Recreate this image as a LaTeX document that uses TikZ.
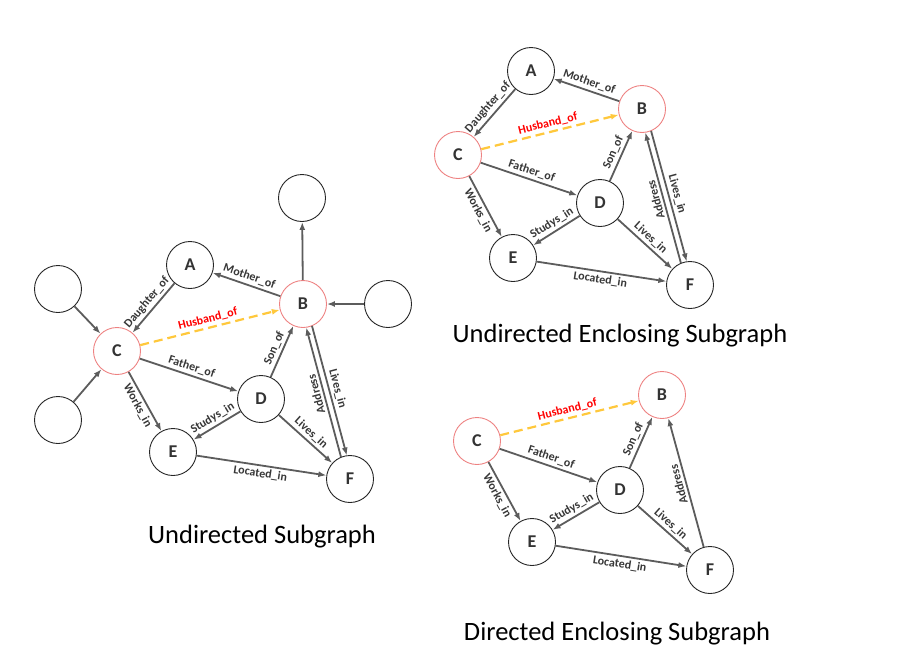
\documentclass[tikz,border=0pt]{standalone}
\usepackage{fontspec}
\setmainfont{Carlito}
\usetikzlibrary{arrows.meta,calc}
\definecolor{edgegray}{RGB}{92,92,92}
\definecolor{labgray}{RGB}{55,55,55}
\definecolor{ringred}{RGB}{238,130,130}
\definecolor{husyellow}{RGB}{255,200,60}
\definecolor{husred}{RGB}{255,0,0}
\tikzset{
  nd/.style={circle,draw=black!85,line width=0.9pt,minimum size=47pt,inner sep=0pt,
    font=\fontsize{18}{20}\selectfont\bfseries,text=black!80,fill=white},
  rnd/.style={nd,draw=ringred},
  edge/.style={draw=edgegray,line width=1.8pt,-{Latex[length=8pt,width=6pt]}},
  hus/.style={draw=husyellow,line width=2.2pt,dash pattern=on 9pt off 5pt,-{Latex[length=8pt,width=6pt]}},
  lab/.style={font=\fontsize{12}{13}\selectfont\bfseries,text=labgray,inner sep=2.5pt,sloped},
  hlab/.style={lab,text=husred},
  twin/.style={edge,shorten <=23.5pt,shorten >=23.5pt},
  ttl/.style={font=\fontsize{26.5}{30}\selectfont,text=black,anchor=base},
}
\begin{document}
\begin{tikzpicture}[x=1pt,y=-1pt]
\useasboundingbox (0,0) rectangle (910,664);
% ---------- Undirected Subgraph ----------
\node[nd] (T1) at (302,198) {};
\node[nd] (R1) at (388,304) {};
\node[nd] (L1) at (58,289) {};
\node[nd] (M1) at (58,420) {};
\node[nd] (A1) at (190,265) {A};
\node[rnd] (B1) at (303,304) {B};
\node[rnd] (C1) at (117,351) {C};
\node[nd] (D1) at (261,399) {D};
\node[nd] (E1) at (173,452) {E};
\node[nd] (F1) at (350,479) {F};
\draw[edge] (B1) -- (T1);
\draw[edge] (R1) -- (B1);
\draw[edge] (L1) -- (C1);
\draw[edge] (M1) -- (C1);
\draw[edge] (A1) -- node[lab,above] {Daughter\_of} (C1);
\draw[edge] (B1) -- node[lab,above] {Mother\_of} (A1);
\draw[hus] (C1) -- node[hlab,above] {Husband\_of} (B1);
\draw[edge] (C1) -- node[lab,above] {Father\_of} (D1);
\draw[edge] (C1) -- node[lab,below] {Works\_in} (E1);
\draw[edge] (D1) -- node[lab,above] {Son\_of} (B1);
\draw[edge] (D1) -- node[lab,above] {Studys\_in} (E1);
\draw[edge] (D1) -- node[lab,above] {Lives\_in} (F1);
\draw[edge] (E1) -- node[lab,below] {Located\_in} (F1);
\draw[twin] ($(F1)!3pt!90:(B1)$) -- node[lab,allow upside down,above] {Address} ($(B1)!3pt!-90:(F1)$);
\draw[twin] ($(B1)!3pt!90:(F1)$) -- node[lab,above] {Lives\_in} ($(F1)!3pt!-90:(B1)$);
\node[ttl] (t1) at (262,543) {Undirected Subgraph};
% ---------- Undirected Enclosing Subgraph ----------
\node[nd] (A2) at (531,71) {A};
\node[rnd] (B2) at (642,109) {B};
\node[rnd] (C2) at (458,155) {C};
\node[nd] (D2) at (600,203) {D};
\node[nd] (E2) at (513,258) {E};
\node[nd] (F2) at (690,285) {F};
\draw[edge] (A2) -- node[lab,above] {Daughter\_of} (C2);
\draw[edge] (B2) -- node[lab,above] {Mother\_of} (A2);
\draw[hus] (C2) -- node[hlab,above] {Husband\_of} (B2);
\draw[edge] (C2) -- node[lab,above] {Father\_of} (D2);
\draw[edge] (C2) -- node[lab,below] {Works\_in} (E2);
\draw[edge] (D2) -- node[lab,above] {Son\_of} (B2);
\draw[edge] (D2) -- node[lab,above] {Studys\_in} (E2);
\draw[edge] (D2) -- node[lab,above] {Lives\_in} (F2);
\draw[edge] (E2) -- node[lab,below] {Located\_in} (F2);
\draw[twin] ($(F2)!3pt!90:(B2)$) -- node[lab,allow upside down,above] {Address} ($(B2)!3pt!-90:(F2)$);
\draw[twin] ($(B2)!3pt!90:(F2)$) -- node[lab,above] {Lives\_in} ($(F2)!3pt!-90:(B2)$);
\node[ttl] (t2) at (620,342) {Undirected Enclosing Subgraph};
% ---------- Directed Enclosing Subgraph ----------
\node[rnd] (B3) at (662,395) {B};
\node[rnd] (C3) at (477,441) {C};
\node[nd] (D3) at (620,490) {D};
\node[nd] (E3) at (532,542) {E};
\node[nd] (F3) at (710,570) {F};
\draw[hus] (C3) -- node[hlab,above] {Husband\_of} (B3);
\draw[edge] (C3) -- node[lab,above] {Father\_of} (D3);
\draw[edge] (C3) -- node[lab,below] {Works\_in} (E3);
\draw[edge] (D3) -- node[lab,above] {Son\_of} (B3);
\draw[edge] (D3) -- node[lab,above] {Studys\_in} (E3);
\draw[edge] (D3) -- node[lab,above] {Lives\_in} (F3);
\draw[edge] (E3) -- node[lab,below] {Located\_in} (F3);
\draw[edge] (F3) -- node[lab,allow upside down,above] {Address} (B3);
\node[ttl] (t3) at (617,640) {Directed Enclosing Subgraph};
\end{tikzpicture}
\end{document}
